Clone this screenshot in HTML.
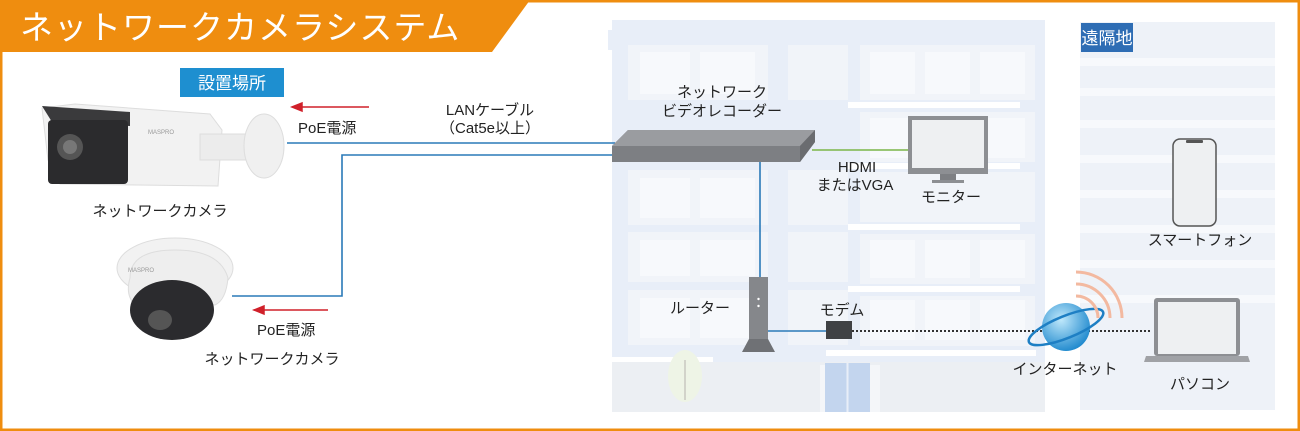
<!DOCTYPE html>
<html><head><meta charset="utf-8"><style>
html,body{margin:0;padding:0;background:#fff}
svg{display:block}
text{font-family:"Liberation Sans","Noto Sans CJK JP",sans-serif;fill:#222}
</style></head><body>
<svg width="1300" height="431" viewBox="0 0 1300 431" xmlns="http://www.w3.org/2000/svg">
<rect x="0" y="0" width="1300" height="431" fill="#fff"/>
<!-- main building -->
<rect x="612" y="20" width="433" height="392" fill="#e8eef8"/>
<rect x="608" y="30" width="8" height="20" fill="#e8eef8"/>
<g fill="#f1f4f9">
<rect x="628" y="45" width="140" height="55"/>
<rect x="628" y="170" width="140" height="55"/>
<rect x="628" y="232" width="140" height="50"/>
<rect x="628" y="290" width="140" height="55"/>
<rect x="788" y="45" width="60" height="55"/>
<rect x="788" y="170" width="60" height="55"/>
<rect x="788" y="232" width="60" height="50"/>
<rect x="788" y="290" width="60" height="55"/>
<rect x="860" y="45" width="175" height="55"/>
<rect x="860" y="112" width="175" height="50"/>
<rect x="860" y="172" width="175" height="50"/>
<rect x="860" y="234" width="175" height="50"/>
<rect x="860" y="296" width="175" height="50"/>
</g>
<g fill="#f7f9fc">
<rect x="640" y="52" width="50" height="42"/><rect x="700" y="52" width="55" height="42"/>
<rect x="640" y="178" width="50" height="40"/><rect x="700" y="178" width="55" height="40"/>
<rect x="640" y="240" width="50" height="36"/><rect x="700" y="240" width="55" height="36"/>
<rect x="640" y="298" width="50" height="40"/><rect x="700" y="298" width="55" height="40"/>
<rect x="870" y="52" width="45" height="42"/><rect x="925" y="52" width="45" height="42"/><rect x="980" y="52" width="45" height="42"/>
<rect x="870" y="118" width="45" height="40"/><rect x="980" y="118" width="45" height="40"/>
<rect x="870" y="240" width="45" height="38"/><rect x="925" y="240" width="45" height="38"/><rect x="980" y="240" width="45" height="38"/>
<rect x="870" y="300" width="45" height="40"/><rect x="925" y="300" width="45" height="40"/><rect x="980" y="300" width="45" height="40"/>
</g>
<g fill="#ffffff">
<rect x="848" y="102" width="172" height="6"/>
<rect x="848" y="163" width="172" height="6"/>
<rect x="848" y="224" width="172" height="6"/>
<rect x="848" y="286" width="172" height="6"/>
<rect x="826" y="350" width="210" height="6"/>
<rect x="593" y="357" width="120" height="6"/>
</g>
<rect x="612" y="362" width="433" height="50" fill="#eceff3"/>
<rect x="820" y="365" width="60" height="47" fill="#f4f6f9"/>
<rect x="825" y="363" width="45" height="49" fill="#c3d5ee"/>
<line x1="847.5" y1="363" x2="847.5" y2="412" stroke="#e8eef8" stroke-width="2"/>
<ellipse cx="685" cy="376" rx="17" ry="26" fill="#eef4e6"/>
<line x1="685" y1="360" x2="685" y2="400" stroke="#c8c8c0" stroke-width="1.5"/>
<!-- remote building -->
<rect x="1080" y="22" width="195" height="388" fill="#eef2f8"/>
<g fill="#f7f9fc">
<rect x="1080" y="58" width="195" height="8"/><rect x="1080" y="88" width="195" height="8"/>
<rect x="1080" y="120" width="195" height="8"/><rect x="1080" y="155" width="195" height="8"/>
<rect x="1080" y="190" width="195" height="8"/><rect x="1080" y="225" width="195" height="8"/>
<rect x="1080" y="260" width="195" height="8"/><rect x="1080" y="295" width="195" height="8"/>
</g>
<!-- title banner -->
<polygon points="0,0 530,0 492,52 0,52" fill="#ef8d0f"/>
<rect x="1" y="1" width="1298" height="429" fill="none" stroke="#ef8d0f" stroke-width="3"/>
<text x="20" y="39" font-size="33" style="fill:#fff" letter-spacing="1">ネットワークカメラシステム</text>
<!-- labels boxes -->
<rect x="180" y="68" width="104" height="29" fill="#1e8fd0"/>
<text x="232" y="89" font-size="17" text-anchor="middle" style="fill:#fff">設置場所</text>
<rect x="1081" y="23" width="52" height="29" fill="#2e6db4"/>
<text x="1107" y="44" font-size="17" text-anchor="middle" style="fill:#fff">遠隔地</text>
<!-- cables -->
<g fill="none" stroke="#2a7ab8" stroke-width="1.6">
<line x1="287" y1="143" x2="615" y2="143"/>
<polyline points="615,155 342,155 342,296 232,296"/>
<line x1="760" y1="160" x2="760" y2="278"/>
<line x1="768" y1="331" x2="826" y2="331"/>
</g>
<line x1="812" y1="150" x2="908" y2="150" stroke="#7ab648" stroke-width="1.5"/>
<line x1="852" y1="331" x2="1150" y2="331" stroke="#333" stroke-width="2" stroke-dasharray="2,2"/>
<!-- red arrows -->
<g stroke="#d0202a" stroke-width="1.5" fill="#d0202a">
<line x1="300" y1="107" x2="369" y2="107"/><polygon points="292,107 302,103 302,111"/>
<line x1="262" y1="310" x2="328" y2="310"/><polygon points="254,310 264,306 264,314"/>
</g>
<!-- text labels -->
<g font-size="15">
<text x="298" y="133">PoE電源</text>
<text x="257" y="335">PoE電源</text>
<text x="490" y="115" text-anchor="middle">LANケーブル</text>
<text x="490" y="133" text-anchor="middle">（Cat5e以上）</text>
<text x="160" y="216" text-anchor="middle">ネットワークカメラ</text>
<text x="272" y="364" text-anchor="middle">ネットワークカメラ</text>
<text x="722" y="97" text-anchor="middle">ネットワーク</text>
<text x="722" y="116" text-anchor="middle">ビデオレコーダー</text>
<text x="857" y="172" text-anchor="middle">HDMI</text>
<text x="855" y="190" text-anchor="middle">またはVGA</text>
<text x="951" y="202" text-anchor="middle">モニター</text>
<text x="700" y="313" text-anchor="middle">ルーター</text>
<text x="842" y="315" text-anchor="middle">モデム</text>
<text x="1200" y="245" text-anchor="middle">スマートフォン</text>
<text x="1065" y="374" text-anchor="middle">インターネット</text>
<text x="1200" y="389" text-anchor="middle">パソコン</text>
</g>
<!-- NVR -->
<polygon points="612,146 628,130 815,130 815,142 800,162 612,162" fill="#7d7f83"/>
<polygon points="612,146 628,130 815,130 800,146" fill="#9a9ca0"/>
<polygon points="800,146 815,130 815,142 800,162" fill="#6a6c70"/>
<!-- monitor -->
<rect x="908" y="116" width="80" height="58" fill="#8d8f93"/>
<rect x="912" y="120" width="72" height="48" fill="#eef0f2"/>
<rect x="940" y="174" width="16" height="6" fill="#7d7f83"/>
<rect x="932" y="180" width="32" height="3" fill="#8d8f93"/>
<!-- router -->
<rect x="749" y="277" width="19" height="62" fill="#85878b"/>
<polygon points="749,339 768,339 775,352 742,352" fill="#6f7175"/>
<circle cx="758.5" cy="299" r="1.2" fill="#fff"/><circle cx="758.5" cy="306" r="1.2" fill="#fff"/>
<!-- modem -->
<rect x="826" y="321" width="26" height="18" fill="#3f4144"/>
<!-- globe -->
<defs><radialGradient id="g" cx="40%" cy="35%" r="70%"><stop offset="0" stop-color="#bfe8fb"/><stop offset="1" stop-color="#1a86cc"/></radialGradient></defs>
<circle cx="1066" cy="327" r="24" fill="url(#g)"/>
<ellipse cx="1066" cy="327" rx="40" ry="11" fill="none" stroke="#1e7fc4" stroke-width="2.5" transform="rotate(-22 1066 327)"/>
<!-- wifi -->
<g fill="none" stroke="#f3b9a0" stroke-width="3">
<path d="M1076,296 A22,22 0 0 1 1098,318"/>
<path d="M1076,284 A34,34 0 0 1 1110,318"/>
<path d="M1076,272 A46,46 0 0 1 1122,318"/>
</g>
<!-- smartphone -->
<rect x="1173" y="139" width="43" height="87" rx="7" fill="#eef0f2" stroke="#555" stroke-width="1.5"/>
<rect x="1186" y="140" width="17" height="3" rx="1" fill="#555"/>
<!-- laptop -->
<rect x="1154" y="298" width="86" height="58" rx="3" fill="#8d8f93"/>
<rect x="1158" y="302" width="78" height="52" fill="#eef0f2"/>
<polygon points="1146,356 1248,356 1250,362 1144,362" fill="#a0a2a6"/>
<!-- bullet camera -->
<polygon points="42,108 75,104 210,114 222,130 218,186 60,184 48,160" fill="#f2f2f2" stroke="#ddd"/>
<polygon points="42,106 130,112 130,126 52,122" fill="#3a3a3c"/>
<rect x="48" y="120" width="80" height="64" rx="4" fill="#2b2b2d"/>
<circle cx="70" cy="147" r="13" fill="#555"/><circle cx="70" cy="147" r="7" fill="#777"/>
<rect x="200" y="134" width="50" height="26" fill="#ececec" stroke="#ddd"/>
<ellipse cx="264" cy="146" rx="20" ry="32" fill="#f0f0f0" stroke="#ddd"/>
<text x="148" y="134" font-size="6" style="fill:#999">MASPRO</text>
<!-- dome camera -->
<ellipse cx="175" cy="268" rx="58" ry="30" fill="#f2f2f2" stroke="#ddd"/>
<path d="M130,278 Q130,250 175,250 Q220,250 228,278 Q226,300 215,305 L135,305 Q125,295 130,278Z" fill="#eeeeee" stroke="#ddd"/>
<ellipse cx="172" cy="310" rx="42" ry="30" fill="#2b2b2e"/>
<ellipse cx="160" cy="320" rx="12" ry="10" fill="#555"/>
<text x="128" y="272" font-size="6" style="fill:#999">MASPRO</text>
</svg>
</body></html>
